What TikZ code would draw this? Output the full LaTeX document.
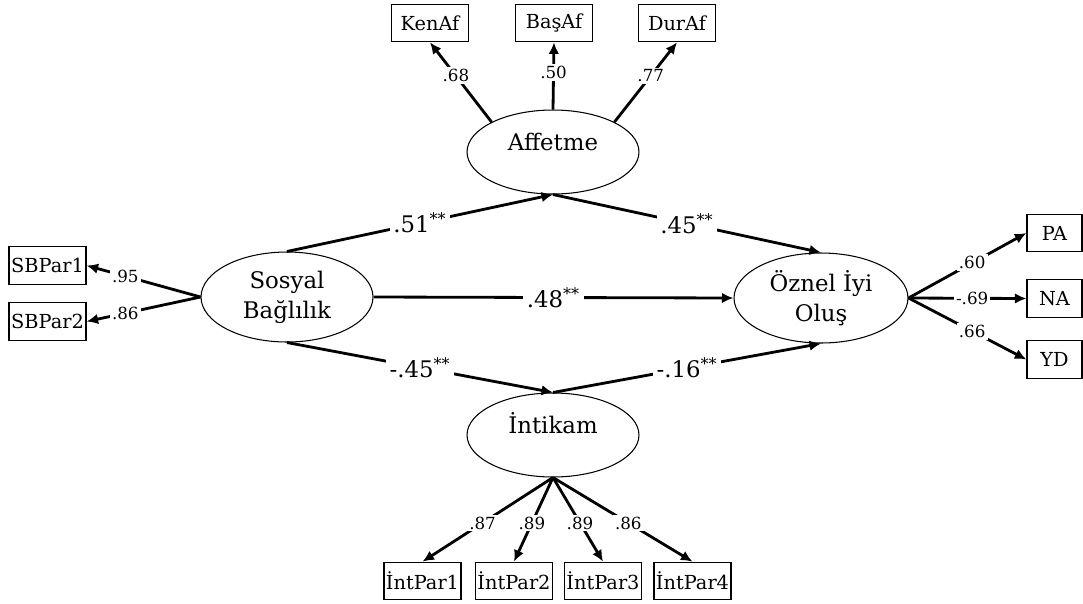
\documentclass[tikz,border=0pt]{standalone}
\usepackage{fontspec}
\setmainfont{DejaVu Serif}
\usetikzlibrary{arrows.meta,shapes.geometric}

\begin{document}
\begin{tikzpicture}[x=0.02cm,y=-0.02cm,
    >={Latex[length=2.3mm,width=2.1mm]},
    lat/.style={ellipse,draw,line width=0.6pt,inner sep=0pt,
                minimum width=3.44cm,minimum height=1.68cm,
                font=\fontsize{13}{17}\selectfont},
    latone/.style={lat,text height=9.5pt,text depth=11.5pt},   % one line, set a bit high
    lattwo/.style={lat,minimum height=1.8cm,align=center},
    obs/.style={rectangle,draw,line width=0.7pt,inner sep=0pt,
                minimum width=1.54cm,minimum height=0.75cm,
                font=\fontsize{11}{13}\selectfont},
    reg/.style={->,line width=1.6pt},
    coef/.style={fill=white,inner sep=2pt,font=\fontsize{13}{15}\selectfont},
    load/.style={->,line width=1.6pt},
    ld/.style={fill=white,inner sep=1.2pt,font=\fontsize{9.5}{11}\selectfont},
  ]
  \useasboundingbox (0,0) rectangle (1083,603);
  \def\st{\textsuperscript{**}}

  % ---------- latent variables ----------
  \node[latone] (aff) at (553,152) {Affetme};
  \node[latone] (int) at (553,435) {İntikam};
  \node[lattwo] (sb)  at (287,297) {Sosyal\\Bağlılık};
  \node[lattwo,minimum width=3.48cm] (oz) at (821,298) {Öznel İyi\\Oluş};

  % ---------- structural paths ----------
  \draw[reg] (sb.north) -- node[coef] (p1) {.51\st} (aff.south);
  \draw[reg] (aff.south) -- node[coef] (p2) {.45\st} (oz.north);
  \draw[reg] (sb.east)  -- node[coef] (p3) {.48\st} (oz.west);
  \draw[reg] (sb.south) -- node[coef] (p4) {-.45\st} (int.north);
  \draw[reg] (int.north) -- node[coef] (p5) {-.16\st} (oz.south);

  % ---------- Affetme indicators (top) ----------
  \node[obs] (kenaf) at (430,23) {KenAf};
  \node[obs] (basaf) at (554,23) {BaşAf};
  \node[obs] (duraf) at (677,23) {DurAf};
  \draw[load] (aff.154) -- node[ld,pos=0.58] (a1) {.68} (kenaf.south);
  \draw[load] (aff.north) -- node[ld,pos=0.55] (a2) {.50} (basaf.south);
  \draw[load] (aff.26) -- node[ld,pos=0.58] (a3) {.77} (duraf.south);

  % ---------- Sosyal Bağlılık indicators (left) ----------
  \node[obs] (sbp1) at (47.5,265.5) {SBPar1};
  \node[obs] (sbp2) at (47.5,321.5) {SBPar2};
  \draw[load] (sb.west) -- node[ld,pos=0.66] (s1) {.95} (sbp1.east);
  \draw[load] (sb.west) -- node[ld,pos=0.66] (s2) {.86} (sbp2.east);

  % ---------- Öznel İyi Oluş indicators (right) ----------
  \foreach \n/\y/\t/\v in {pa/233/PA/.60, na/298.5/NA/-.69, yd/359.5/YD/.66}
    {\node[obs,minimum width=1.1cm] (\n) at (1054.5,\y) {\t};
     \draw[load] (oz.east) -- node[ld,pos=0.54] (o\n) {\v} (\n.west);}

  % ---------- İntikam indicators (bottom) ----------
  \foreach \i/\x/\v in {1/422.5/.87, 2/514/.89, 3/603/.89, 4/692.5/.86}
    {\node[obs] (ip\i) at (\x,581) {İntPar\i};
     \draw[load] (int.south) -- node[ld,pos=0.54] (l\i) {\v} (ip\i.north);}
\end{tikzpicture}
\end{document}
